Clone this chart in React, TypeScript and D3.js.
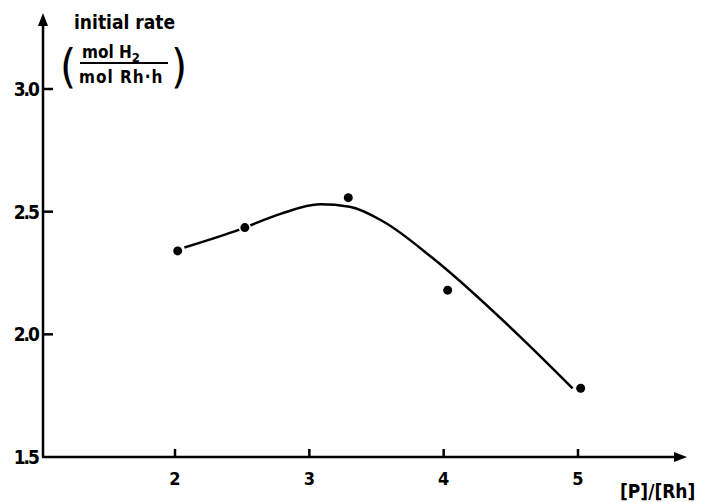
import React, { useRef, useEffect } from "react";
import * as d3 from "d3";

// measured points: [P]/[Rh] vs initial rate
const ratio = [2.02, 2.52, 3.29, 4.03, 5.02];
const rate = [2.34, 2.435, 2.557, 2.18, 1.78];

// hand-drawn fit curve
const fitRatio = [2.07, 2.48, 2.78, 3.08, 3.3, 3.55, 3.92, 4.57, 4.96];
const fitRate = [2.354, 2.427, 2.49, 2.53, 2.52, 2.46, 2.31, 1.99, 1.78];

const xTicks = [2, 3, 4, 5];
const yTicks = [1.5, 2.0, 2.5, 3.0];
const yTickLabels = ["1.5", "2.0", "2.5", "3.0"];

const FONT = "'DejaVu Sans Condensed', 'DejaVu Sans', sans-serif";

export default function App() {
  const ref = useRef<SVGSVGElement | null>(null);

  useEffect(() => {
    if (!ref.current) return;
    const svg = d3.select(ref.current);
    svg.selectAll("*").remove();

    const x = d3.scaleLinear().domain([2, 5]).range([175, 578]);
    const y = d3.scaleLinear().domain([1.5, 3.0]).range([457, 89]);
    const x0 = 43;
    const y0 = y(1.5);

    // axes
    const ax = svg.append("g").attr("stroke", "#000").attr("stroke-width", 2.5);
    ax.append("line").attr("x1", x0).attr("y1", y0).attr("x2", x0).attr("y2", 24);
    ax.append("line").attr("x1", x0 - 1).attr("y1", y0).attr("x2", 676).attr("y2", y0);
    svg.append("path").attr("d", `M${x0},13 L${x0 - 5},26 L${x0 + 5},26 Z`).attr("fill", "#000");
    svg.append("path").attr("d", `M687,${y0} L674,${y0 - 5} L674,${y0 + 5} Z`).attr("fill", "#000");

    // x ticks
    xTicks.forEach((t) => {
      ax.append("line").attr("x1", x(t)).attr("x2", x(t)).attr("y1", y0).attr("y2", y0 - 8);
      svg.append("text")
        .attr("x", x(t)).attr("y", y0 + 28)
        .attr("text-anchor", "middle")
        .attr("font-family", FONT).attr("font-weight", "bold").attr("font-size", 18)
        .text(String(t));
    });

    // y ticks
    yTicks.forEach((t, i) => {
      if (i > 0) ax.append("line").attr("x1", x0).attr("x2", x0 + 10).attr("y1", y(t)).attr("y2", y(t));
      svg.append("text")
        .attr("x", x0 - 5).attr("y", y(t) + 7)
        .attr("text-anchor", "end")
        .attr("font-family", FONT).attr("font-weight", "bold").attr("font-size", 19)
        .attr("letter-spacing", -2)
        .text(yTickLabels[i]);
    });

    // axis titles
    const t = svg.append("g").attr("font-family", FONT).attr("font-weight", "bold");
    t.append("text").attr("x", 74).attr("y", 29).attr("font-size", 19).text("initial rate");
    t.append("text").attr("x", 82).attr("y", 58).attr("font-size", 17)
      .text("mol H")
      .append("tspan").attr("font-size", 13).attr("dy", 4).text("2");
    svg.append("line").attr("x1", 80).attr("x2", 168).attr("y1", 63).attr("y2", 63)
      .attr("stroke", "#000").attr("stroke-width", 2);
    t.append("text").attr("x", 79).attr("y", 83).attr("font-size", 17)
      .attr("letter-spacing", 1).text("mol Rh\u00b7h");
    t.append("text").attr("x", 60).attr("y", 82).attr("font-size", 46).attr("font-weight", "normal").text("(");
    t.append("text").attr("x", 171).attr("y", 82).attr("font-size", 46).attr("font-weight", "normal").text(")");
    t.append("text").attr("x", 620).attr("y", 498).attr("font-size", 19).text("[P]/[Rh]");

    // fit curve
    const fit = fitRatio.map((r, i) => [r, fitRate[i]] as [number, number]);
    const line = d3.line<[number, number]>()
      .x((d) => x(d[0])).y((d) => y(d[1]))
      .curve(d3.curveMonotoneX);
    svg.append("path").datum(fit).attr("d", line)
      .attr("fill", "none").attr("stroke", "#000").attr("stroke-width", 2.5);

    // data points
    svg.selectAll("circle.pt")
      .data(ratio.map((r, i) => [r, rate[i]]))
      .enter().append("circle")
      .attr("class", "pt")
      .attr("cx", (d) => x(d[0])).attr("cy", (d) => y(d[1]))
      .attr("r", 4.5)
      .attr("fill", "#000").attr("stroke", "#fff").attr("stroke-width", 3)
      .attr("paint-order", "stroke");
  }, []);

  return (
    <svg
      ref={ref}
      width={702}
      height={502}
      style={{ position: "absolute", left: 0, top: 0, background: "#fff" }}
    />
  );
}
